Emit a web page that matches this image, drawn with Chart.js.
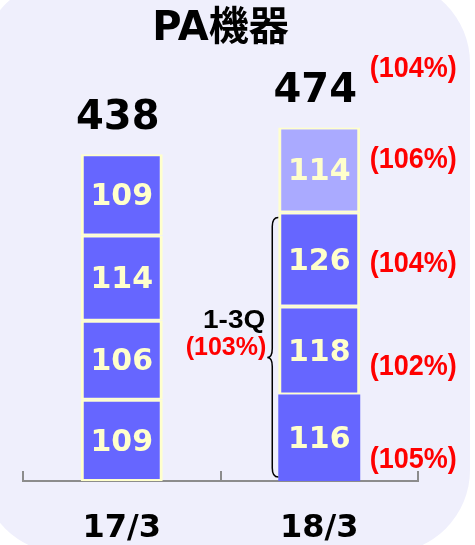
<!DOCTYPE html>
<html>
<head>
<meta charset="utf-8">
<script src="https://cdn.jsdelivr.net/npm/chart.js@4"></script>
<style>
  html, body { margin: 0; padding: 0; background: #ffffff; }
  #chart { display: block; }
</style>
</head>
<body>
<canvas id="chart" width="475" height="545"></canvas>
<script>
const categories = ['17/3', '18/3'];
const q1 = [109, 116];
const q2 = [106, 118];
const q3 = [114, 126];
const q4 = [109, 114];
const totals = [438, 474];
const quarterGrowth = ['(105%)', '(102%)', '(104%)', '(106%)']; // 18/3, Q1..Q4
const totalGrowth = '(104%)';
const cumLabel = '1-3Q';
const cumGrowth = '(103%)';

const BLUE = '#6666ff';
const LIGHT = '#aaaaff';
const YELLOW = '#ffffcc';
const RED = '#ff0000';
const LATIN = '"DejaVu Sans", "Noto Sans CJK JP", sans-serif';
const GOTHIC = '"Liberation Sans", Arial, sans-serif';

function boxBorder(ctx) {
  // the 18/3 first-quarter box has no yellow frame in the original
  if (ctx.datasetIndex === 0 && ctx.dataIndex === 1) return 0;
  return { top: 2, bottom: 2, left: 3, right: 3 };
}

function makeSet(label, data, colors) {
  return {
    label: label,
    data: data,
    backgroundColor: colors,
    borderColor: YELLOW,
    borderWidth: boxBorder,
    borderSkipped: false,
    categoryPercentage: 1,
    barPercentage: 0.415
  };
}

const panelPlugin = {
  id: 'panel',
  beforeDraw(chart) {
    const c = chart.ctx;
    c.save();
    c.fillStyle = '#ffffff';
    c.fillRect(0, 0, chart.width, chart.height);
    c.fillStyle = '#efeffc';
    c.beginPath();
    c.roundRect(-19, -20, 489, 573, 83);
    c.fill();
    c.restore();
  }
};

function squeezedText(c, text, x, y, sx) {
  c.save();
  c.translate(x, y);
  c.scale(sx, 1);
  c.fillText(text, 0, 0);
  c.restore();
}

const labelPlugin = {
  id: 'labels',
  afterDatasetsDraw(chart) {
    const c = chart.ctx;
    const metas = chart.data.datasets.map((d, i) => chart.getDatasetMeta(i));
    c.save();
    c.textBaseline = 'middle';

    // values inside boxes
    c.textAlign = 'center';
    c.fillStyle = YELLOW;
    c.font = 'bold 30px ' + LATIN;
    metas.forEach((meta, di) => {
      meta.data.forEach((bar, i) => {
        c.fillText(String(chart.data.datasets[di].data[i]), bar.x, (bar.y + bar.base) / 2 + 2.5);
      });
    });

    // totals above bars
    const top = metas[metas.length - 1].data;
    c.fillStyle = '#000000';
    c.font = 'bold 40px ' + LATIN;
    top.forEach((bar, i) => {
      c.fillText(String(totals[i]), bar.x - 4, bar.y - 36);
    });

    // growth rates of 18/3
    const last = categories.length - 1;
    const nudge = [22, 16, 4, -10];
    c.fillStyle = RED;
    c.font = 'bold 30px ' + GOTHIC;
    metas.forEach((meta, di) => {
      const bar = meta.data[last];
      squeezedText(c, quarterGrowth[di], bar.x + 94, (bar.y + bar.base) / 2 + nudge[di], 0.9);
    });
    const lastTop = top[last];
    squeezedText(c, totalGrowth, lastTop.x + 94, lastTop.y - 59, 0.9);

    // brace for 1-3Q
    const b0 = metas[0].data[last];
    const b2 = metas[2].data[last];
    const left = b0.x - b0.width / 2;
    const yTop = b2.y + 5;
    const yBot = b0.base - 4;
    const yMid = chart.scales.y.getPixelForValue((q1[last] + q2[last] + q3[last]) * 0.46);
    const xr = left;
    const x0 = left - 6;
    const xt = left - 11;
    const r = 9;
    c.strokeStyle = '#000000';
    c.lineWidth = 1.5;
    c.beginPath();
    c.moveTo(xr, yTop);
    c.quadraticCurveTo(x0, yTop, x0, yTop + r);
    c.lineTo(x0, yMid - r);
    c.quadraticCurveTo(x0, yMid, xt, yMid);
    c.quadraticCurveTo(x0, yMid, x0, yMid + r);
    c.lineTo(x0, yBot - r);
    c.quadraticCurveTo(x0, yBot, xr, yBot);
    c.stroke();

    c.textAlign = 'right';
    c.font = 'bold 25px ' + GOTHIC;
    c.fillStyle = '#000000';
    squeezedText(c, cumLabel, xt - 2, yMid - 36, 1.12);
    c.fillStyle = RED;
    c.fillText(cumGrowth, xt - 1, yMid - 9);
    c.restore();
  }
};

new Chart(document.getElementById('chart'), {
  type: 'bar',
  data: {
    labels: categories,
    datasets: [
      makeSet('1Q', q1, BLUE),
      makeSet('2Q', q2, BLUE),
      makeSet('3Q', q3, BLUE),
      makeSet('4Q', q4, [BLUE, LIGHT])
    ]
  },
  options: {
    responsive: false,
    devicePixelRatio: 1,
    animation: false,
    layout: { padding: { left: 23, right: 57, top: 0, bottom: 0 } },
    plugins: {
      legend: { display: false },
      tooltip: { enabled: false },
      title: {
        display: true,
        text: 'PA機器',
        color: '#000000',
        font: { family: LATIN, size: 40, weight: 'bold' },
        padding: { top: 6, bottom: 16 }
      }
    },
    scales: {
      x: {
        stacked: true,
        offset: true,
        grid: {
          offset: true,
          drawOnChartArea: false,
          drawTicks: true,
          tickLength: -10,
          color: '#8c8c8c',
          lineWidth: 2
        },
        border: { display: true, color: '#8c8c8c', width: 2 },
        ticks: {
          color: '#000000',
          font: { family: LATIN, size: 32, weight: 'bold' },
          padding: 38.8
        },
        afterFit(scale) { scale.height = 64; }
      },
      y: {
        stacked: true,
        display: false,
        min: 0,
        max: 551
      }
    }
  },
  plugins: [panelPlugin, labelPlugin]
});
</script>
</body>
</html>
